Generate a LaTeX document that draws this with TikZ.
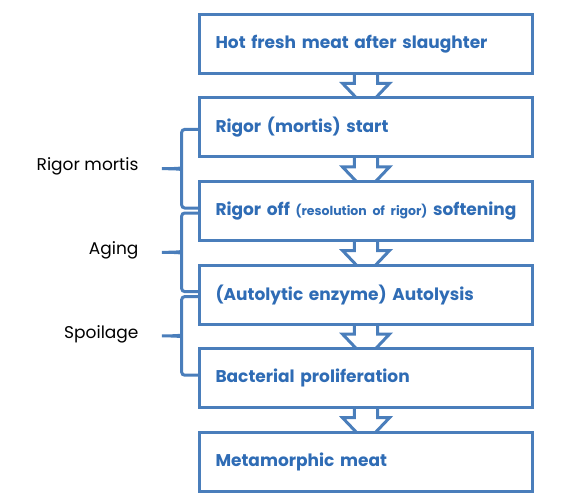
\documentclass[tikz,border=0pt]{standalone}
\usepackage{fontspec}
\setmainfont{Poppins}
\usetikzlibrary{calc,positioning,backgrounds}
\definecolor{stageline}{RGB}{74,126,187}
\definecolor{stagetext}{RGB}{47,108,181}

\begin{document}
\begin{tikzpicture}[x=1pt,y=1pt,
  stagebox/.style={draw=stageline,line width=3pt,fill=white,minimum width=333pt,minimum height=59pt,
    text width=301pt,inner xsep=16pt,align=left,text=stagetext,font=\fontsize{17}{20}\selectfont\bfseries},
  flowarrow/.style={draw=stageline,line width=3pt,fill=white},
  bracepath/.style={draw=stageline,line width=3pt,rounded corners=3pt},
  phaselabel/.style={anchor=east,font=\fontsize{17}{20}\selectfont}]
  \useasboundingbox (0,0) rectangle (562,-500);

  % Helper macro: brace from one stage to the next. #1 name, #2 upper stage, #3 lower stage, #4 label
  \newcommand{\phasebrace}[4]{%
    \coordinate (#1top) at ($(#2.west)+(0,-2)$);
    \coordinate (#1bot) at ($(#3.west)+(0,3)$);
    \coordinate (#1tip) at ($(#1top)!0.5!(#1bot)+(-38,0)$);
    \coordinate (#1v) at ($(#1top)+(-16.3,0)$);
    \draw[bracepath] (#1top) -- (#1v) -- ($(#1v |- #1tip)+(0,4)$)
      .. controls +(0,-3.5) and +(14,0) .. (#1tip)
      .. controls +(14,0) and +(0,3.5) .. ($(#1v |- #1tip)+(0,-4)$)
      -- (#1v |- #1bot) -- (#1bot);
    \node[phaselabel] (#1lbl) at ($(#1tip)+(-18,2)$) {#4};
  }

  % stages, top to bottom
  \node[stagebox] (hot) at (366,-43.8) {Hot fresh meat after slaughter};
  \begin{scope}[node distance=21.6pt]
    \node[stagebox,below=of hot] (start) {Rigor (mortis) start};
    \node[stagebox,below=of start] (off) {\mbox{Rigor off {\fontsize{12.5}{15}\selectfont(resolution of rigor)} softening}};
    \node[stagebox,below=of off] (auto) {(Autolytic enzyme) Autolysis};
    \node[stagebox,below=of auto] (bact) {Bacterial proliferation};
    \node[stagebox,below=of bact] (meta) {Metamorphic meat};
  \end{scope}

  % block arrows between stages, tips hidden under the next box
  \begin{scope}[on background layer]
    \foreach \from/\to in {hot/start,start/off,off/auto,auto/bact,bact/meta} {
      \draw[flowarrow] ($(\from.south)+(-11.7,6)$) -- ($(\from.south)+(-11.7,-8.5)$)
        -- ($(\from.south)+(-23.5,-8.5)$) -- ($(\to.north)+(0,-11.6)$)
        -- ($(\from.south)+(23.5,-8.5)$) -- ($(\from.south)+(11.7,-8.5)$)
        -- ($(\from.south)+(11.7,6)$) -- cycle;
    }
  \end{scope}

  % phases
  \phasebrace{rig}{start}{off}{Rigor mortis}
  \phasebrace{age}{off}{auto}{Aging}
  \phasebrace{spo}{auto}{bact}{Spoilage}
\end{tikzpicture}
\end{document}
